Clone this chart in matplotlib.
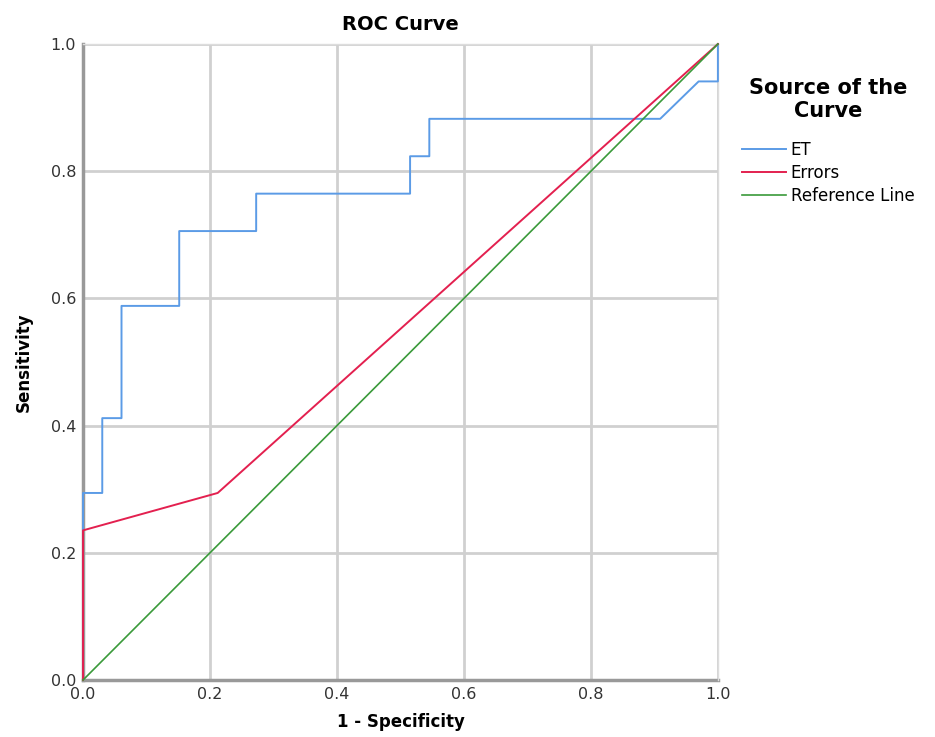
import matplotlib.pyplot as plt
import numpy as np

# ROC data (1 - specificity, sensitivity)
et_fpr = [0, 0, 1/33, 1/33, 2/33, 2/33, 5/33, 5/33, 9/33, 9/33, 17/33, 17/33,
          18/33, 18/33, 30/33, 32/33, 1.0, 1.0]
et_tpr = [0, 5/17, 5/17, 7/17, 7/17, 10/17, 10/17, 12/17, 12/17, 13/17, 13/17,
          14/17, 14/17, 15/17, 15/17, 16/17, 16/17, 1.0]

err_fpr = [0, 0, 7/33, 1.0]
err_tpr = [0, 4/17, 5/17, 1.0]

ref_x = [0, 1]
ref_y = [0, 1]

fig = plt.figure(figsize=(9.35, 7.37), dpi=100)
ax = fig.add_axes([0.0888, 0.0773, 0.679, 0.863])

ax.plot(et_fpr, et_tpr, color='#5b9be6', lw=1.4, label='ET', zorder=5, clip_on=False)
ax.plot(err_fpr, err_tpr, color='#e3204f', lw=1.4, label='Errors', zorder=5, clip_on=False)
ax.plot(ref_x, ref_y, color='#3a9a3a', lw=1.2, label='Reference Line', zorder=5, clip_on=False)

ax.set_xlim(0, 1)
ax.set_ylim(0, 1)
ticks = np.arange(0, 1.01, 0.2)
ax.set_xticks(ticks)
ax.set_yticks(ticks)
ax.set_xticklabels([f'{v:.1f}' for v in ticks])
ax.set_yticklabels([f'{v:.1f}' for v in ticks])
ax.grid(True, color='#d0d0d0', lw=2)
ax.set_axisbelow(True)
ax.tick_params(length=0, labelsize=11.5, colors='#333333', pad=5)

for side in ['left', 'bottom']:
    ax.spines[side].set_color('#999999')
    ax.spines[side].set_linewidth(2.5)
    ax.spines[side].set_zorder(2)
for side in ['top', 'right']:
    ax.spines[side].set_color('#dddddd')
    ax.spines[side].set_linewidth(1)

ax.set_title('ROC Curve', fontsize=14, fontweight='bold', pad=10)
ax.set_xlabel('1 - Specificity', fontsize=12, fontweight='bold', labelpad=8)
ax.set_ylabel('Sensitivity', fontsize=12, fontweight='bold', labelpad=13)

leg = ax.legend(title='Source of the\nCurve', loc='upper left',
                bbox_to_anchor=(1.015, 0.97), frameon=False, fontsize=12,
                title_fontproperties={'weight': 'bold', 'size': 15},
                handlelength=2.6, handletextpad=0.3, labelspacing=0.3,
                alignment='center')
leg.get_title().set_multialignment('center')
leg._legend_box.sep = 14

fig.savefig('out.png', dpi=100)
